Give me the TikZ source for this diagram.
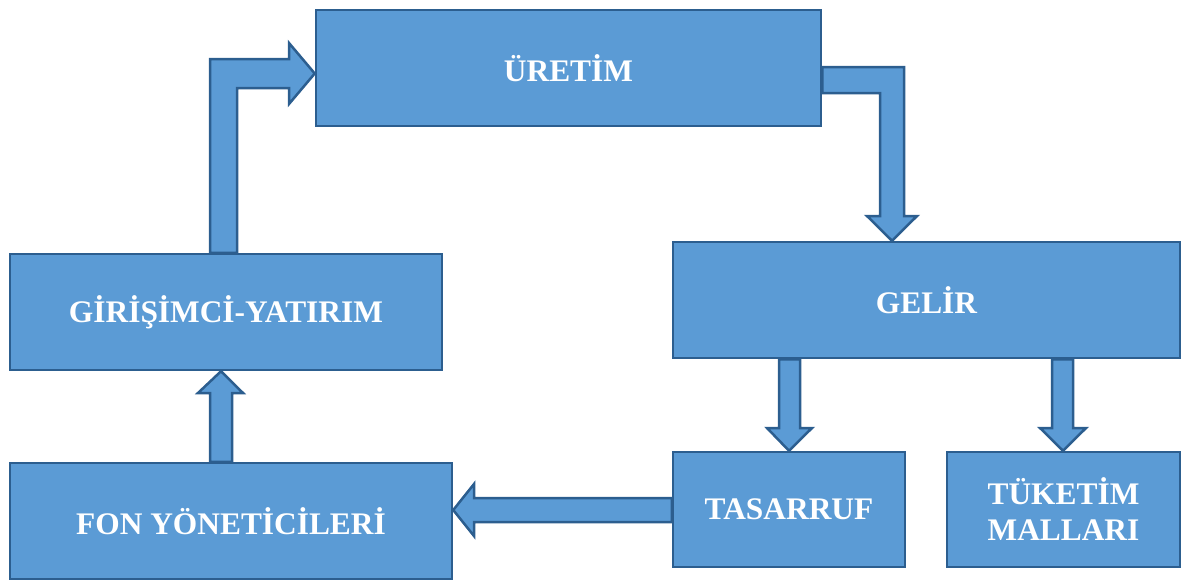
\documentclass[tikz,border=0pt]{standalone}
\usepackage{fontspec}
\setmainfont{Liberation Serif}
\definecolor{boxfill}{HTML}{5B9BD5}
\definecolor{boxline}{HTML}{2C5E8F}
\begin{document}
\begin{tikzpicture}[x=1pt,y=-1pt,
  box/.style={draw=boxline,fill=boxfill,line width=2.5pt,inner sep=0pt,
    text=white,font=\fontsize{31.4}{36}\selectfont\bfseries,align=center},
  blockarrow/.style={draw=boxline,fill=boxfill,line width=2.5pt,line join=miter}]
\useasboundingbox (0,0) rectangle (1197,581);
\node[box,minimum width=505pt,minimum height=116pt] (uret) at (568.5,68) {ÜRETİM};
\node[box,minimum width=507pt,minimum height=116pt] (gel) at (926.5,300) {GELİR};
\node[box,minimum width=432pt,minimum height=116pt] (gir) at (226,312) {GİRİŞİMCİ-YATIRIM};
\node[box,minimum width=442pt,minimum height=116pt] (fon) at (231,521) {FON YÖNETİCİLERİ};
\node[box,minimum width=232pt,minimum height=115pt] (tas) at (789,509.5) {TASARRUF};
\node[box,minimum width=233pt,minimum height=115pt] (tuk) at (1063.5,509.5) {TÜKETİM\\MALLARI};
% GİRİŞİMCİ -> ÜRETİM
\draw[blockarrow] (210,0 |- gir.north) -- (210,59) -- (289,59) -- (289,43)
  -- (uret.west |- 0,73.5) -- (289,104) -- (289,88) -- (237,88) -- (237,0 |- gir.north) -- cycle;
% ÜRETİM -> GELİR
\draw[blockarrow] (uret.east |- 0,67) -- (904,67) -- (904,216) -- (917,216)
  -- (892,0 |- gel.north) -- (867,216) -- (880,216) -- (880,93) -- (uret.east |- 0,93) -- cycle;
% TASARRUF -> FON
\draw[blockarrow] (tas.west |- 0,498) -- (474,498) -- (474,484) -- (fon.east |- 0,510)
  -- (474,536) -- (474,522) -- (tas.west |- 0,522) -- cycle;
% FON -> GİRİŞİMCİ
\draw[blockarrow] (210,0 |- fon.north) -- (210,393) -- (198,393) -- (221,0 |- gir.south)
  -- (243,393) -- (232,393) -- (232,0 |- fon.north) -- cycle;
% GELİR -> TASARRUF
\draw[blockarrow] (779,0 |- gel.south) -- (779,428) -- (767,428) -- (789,0 |- tas.north)
  -- (812,428) -- (800,428) -- (800,0 |- gel.south) -- cycle;
% GELİR -> TÜKETİM
\draw[blockarrow] (1052,0 |- gel.south) -- (1052,428) -- (1040,428) -- (1063,0 |- tuk.north)
  -- (1086,428) -- (1073,428) -- (1073,0 |- gel.south) -- cycle;
\end{tikzpicture}
\end{document}
